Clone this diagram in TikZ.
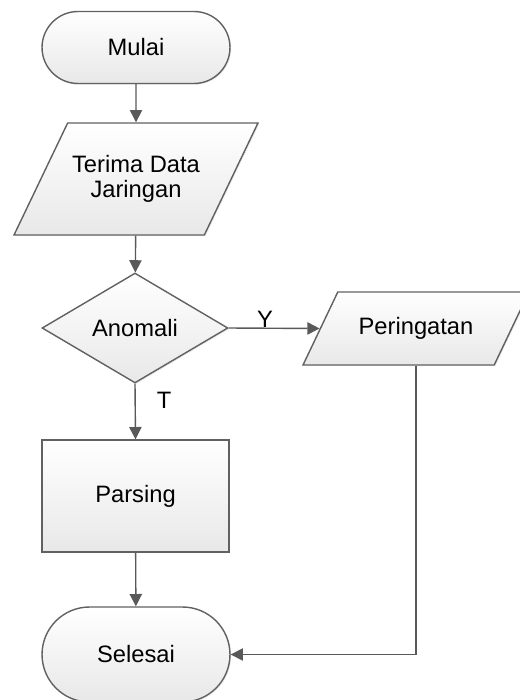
\documentclass[tikz,border=0pt]{standalone}
\usepackage{fontspec}
\setmainfont{Liberation Sans}
\usetikzlibrary{shapes,positioning,arrows.meta,shadows}

\begin{document}
\begin{tikzpicture}[x=0.02cm,y=-0.02cm,
      block/.style={draw=black!62,line width=0.8pt,top color=white,bottom color=black!9,
        font=\fontsize{13.5}{14}\selectfont,inner sep=0pt,
        drop shadow={opacity=0.15,shadow xshift=0.7pt,shadow yshift=-0.7pt}},
      terminal/.style={block,rounded rectangle,minimum width=3.76cm},
      io/.style={block,trapezium,trapezium left angle=64,trapezium right angle=116,trapezium stretches body=true},
      label/.style={font=\fontsize{13.5}{14}\selectfont,inner sep=0pt},
      line/.style={draw=black!65,line width=0.8pt,-{Triangle[length=7pt,width=7pt]}}
      ]
      \path[use as bounding box,clip] (0,0) rectangle (520,700);
      \node[terminal,minimum height=1.44cm] (Mulai) at (136,47.5) {Mulai};
      \node[io,inner ysep=18pt,minimum width=4.88cm,minimum height=2.24cm,align=center] (Terima) at (136,179) {Terima Data\\Jaringan};
      \node[block,diamond,minimum width=3.72cm,minimum height=2.2cm] (Anomali) at (135,328) {Anomali};
      \node[io,inner ysep=14pt,minimum width=4.52cm,minimum height=1.46cm] (Peringatan) at (416,328.5) {Peringatan};
      \node[block,rectangle,minimum width=3.74cm,minimum height=2.24cm] (Parsing) at (135.5,496) {Parsing};
      \node[terminal,minimum height=1.9cm] (Selesai) at (136,654.5) {Selesai};

      \foreach \from/\to in {Mulai/Terima,Terima/Anomali,Parsing/Selesai}{
        \draw[line] (\from) -- (\to);
      }
      \draw[line] (Anomali.east) -- node[label,pos=0.4,above] {Y} (Peringatan.west);
      \draw[line] (Anomali.south) -- node[label,pos=0.3,right=0.42cm] {T} (Parsing.north);
      \draw[line] (Peringatan.south) |- (Selesai.east);
    \end{tikzpicture}
\end{document}
